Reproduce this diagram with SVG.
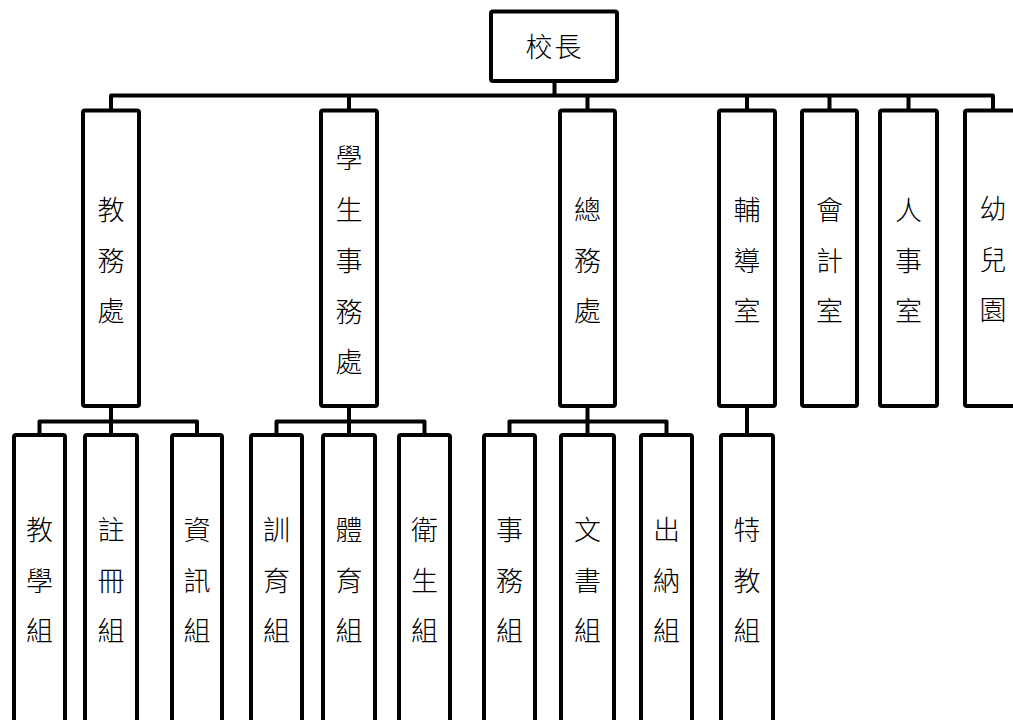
<svg xmlns="http://www.w3.org/2000/svg" width="1013" height="720" viewBox="0 0 1013 720">
<style>
.box{fill:#fff;stroke:#000;stroke-width:4;stroke-linejoin:round}
.ln{fill:none;stroke:#000;stroke-width:4;stroke-linejoin:round;stroke-linecap:butt}
text{font-family:"Noto Sans CJK TC","Noto Sans CJK JP",sans-serif;font-size:27px;fill:#000;text-anchor:middle;dominant-baseline:central;font-weight:300}
</style>
<rect width="1013" height="720" fill="#fff"/>
<g id="connectors">
<path class="ln" d="M554.5 81V95.5M111 110.5V95.5H993V110.5M349 95.5V110.5M587.5 95.5V110.5M747 95.5V110.5M829.5 95.5V110.5M908.5 95.5V110.5"/>
<path class="ln" d="M111 406V421.5M39.5 435V421.5H197V435M111 421.5V435"/>
<path class="ln" d="M349 406V421.5M276.5 435V421.5H424.5V435M349 421.5V435"/>
<path class="ln" d="M587.5 406V421.5M509.5 435V421.5H666.5V435M587.5 421.5V435"/>
<path class="ln" d="M747 406V435"/>
</g>
<g id="n-principal"><rect class="box" x="491" y="11.5" width="126" height="69.5" rx="2"/><text x="554.5" y="45" letter-spacing="2">校長</text></g>
<g id="n-academic"><rect class="box" x="83" y="110.5" width="56" height="295.5" rx="2"/><text x="111"><tspan x="111" y="207.5">教</tspan><tspan x="111" y="258.5">務</tspan><tspan x="111" y="309">處</tspan></text></g>
<g id="n-student"><rect class="box" x="321" y="110.5" width="56" height="295.5" rx="2"/><text><tspan x="349" y="156">學</tspan><tspan x="349" y="207.5">生</tspan><tspan x="349" y="258.5">事</tspan><tspan x="349" y="309.5">務</tspan><tspan x="349" y="360">處</tspan></text></g>
<g id="n-general"><rect class="box" x="560" y="110.5" width="55" height="295.5" rx="2"/><text><tspan x="587.5" y="207.5">總</tspan><tspan x="587.5" y="258.5">務</tspan><tspan x="587.5" y="309">處</tspan></text></g>
<g id="n-counsel"><rect class="box" x="719" y="110.5" width="56" height="295.5" rx="2"/><text><tspan x="747" y="207.5">輔</tspan><tspan x="747" y="258.5">導</tspan><tspan x="747" y="309">室</tspan></text></g>
<g id="n-account"><rect class="box" x="802" y="110.5" width="55" height="295.5" rx="2"/><text><tspan x="829.5" y="207.5">會</tspan><tspan x="829.5" y="258.5">計</tspan><tspan x="829.5" y="309">室</tspan></text></g>
<g id="n-personnel"><rect class="box" x="880" y="110.5" width="57" height="295.5" rx="2"/><text><tspan x="908.5" y="207.5">人</tspan><tspan x="908.5" y="258.5">事</tspan><tspan x="908.5" y="309">室</tspan></text></g>
<g id="n-kinder"><rect class="box" x="965" y="110.5" width="56" height="295.5" rx="2"/><text><tspan x="993" y="207">幼</tspan><tspan x="993" y="258">兒</tspan><tspan x="993" y="308">園</tspan></text></g>
<g id="n-teach"><rect class="box" x="14" y="435" width="51" height="290" rx="2"/><text><tspan x="39.5" y="527.5">教</tspan><tspan x="39.5" y="579">學</tspan><tspan x="39.5" y="629">組</tspan></text></g>
<g id="n-register"><rect class="box" x="85" y="435" width="52" height="290" rx="2"/><text><tspan x="111" y="527.5">註</tspan><tspan x="111" y="579">冊</tspan><tspan x="111" y="629">組</tspan></text></g>
<g id="n-info"><rect class="box" x="172" y="435" width="50" height="290" rx="2"/><text><tspan x="197" y="527.5">資</tspan><tspan x="197" y="579">訊</tspan><tspan x="197" y="629">組</tspan></text></g>
<g id="n-discipline"><rect class="box" x="251" y="435" width="51" height="290" rx="2"/><text><tspan x="276.5" y="527.5">訓</tspan><tspan x="276.5" y="579">育</tspan><tspan x="276.5" y="629">組</tspan></text></g>
<g id="n-pe"><rect class="box" x="323" y="435" width="52" height="290" rx="2"/><text><tspan x="349" y="527.5">體</tspan><tspan x="349" y="579">育</tspan><tspan x="349" y="629">組</tspan></text></g>
<g id="n-health"><rect class="box" x="399" y="435" width="51" height="290" rx="2"/><text><tspan x="424.5" y="527.5">衛</tspan><tspan x="424.5" y="579">生</tspan><tspan x="424.5" y="629">組</tspan></text></g>
<g id="n-affairs"><rect class="box" x="484" y="435" width="51" height="290" rx="2"/><text><tspan x="509.5" y="527.5">事</tspan><tspan x="509.5" y="579">務</tspan><tspan x="509.5" y="629">組</tspan></text></g>
<g id="n-docs"><rect class="box" x="561" y="435" width="53" height="290" rx="2"/><text><tspan x="587.5" y="527.5">文</tspan><tspan x="587.5" y="579">書</tspan><tspan x="587.5" y="629">組</tspan></text></g>
<g id="n-cashier"><rect class="box" x="641" y="435" width="51" height="290" rx="2"/><text><tspan x="666.5" y="527.5">出</tspan><tspan x="666.5" y="579">納</tspan><tspan x="666.5" y="629">組</tspan></text></g>
<g id="n-special"><rect class="box" x="721" y="435" width="52" height="290" rx="2"/><text><tspan x="747" y="527.5">特</tspan><tspan x="747" y="579">教</tspan><tspan x="747" y="629">組</tspan></text></g>
</svg>
